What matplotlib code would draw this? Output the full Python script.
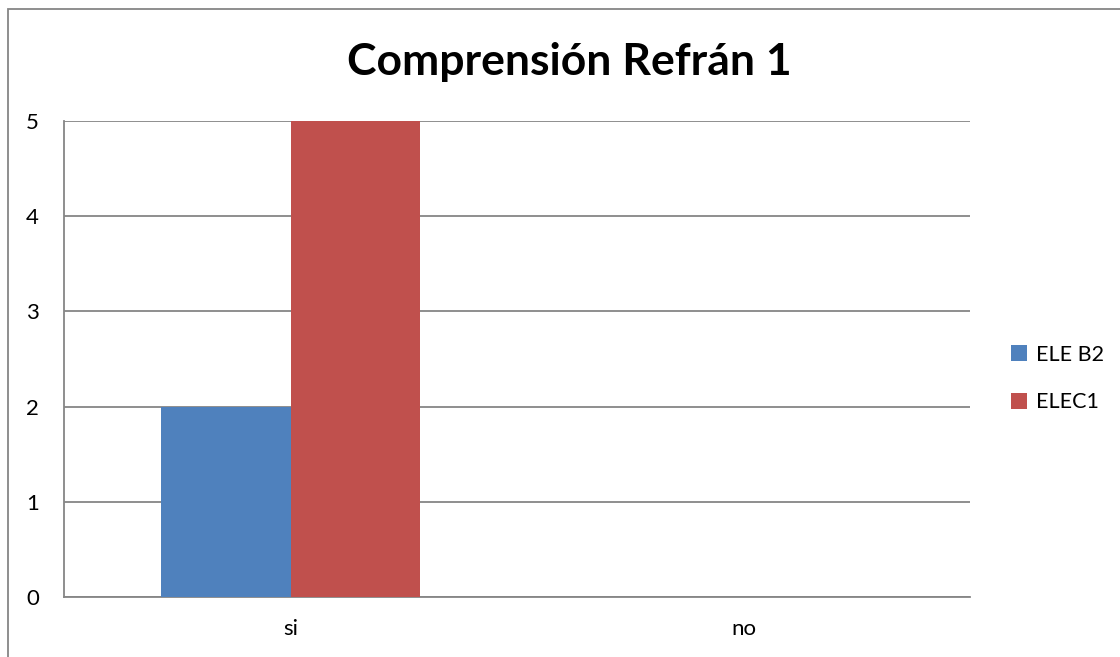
import numpy as np
import matplotlib
matplotlib.use('Agg')
import matplotlib.pyplot as plt
from matplotlib.patches import Rectangle

categories = ['si', 'no']
series_names = ['ELE B2', 'ELEC1']
ele_b2 = [2, 0]
elec1 = [5, 0]
colors = ['#4F81BD', '#C0504D']
yticks = [0, 1, 2, 3, 4, 5]

plt.rcParams['font.family'] = ['Lato', 'DejaVu Sans']

fig = plt.figure(figsize=(11.2, 6.57), dpi=100)
ax = fig.add_axes([64/1120, 1 - 597/657, (970 - 64)/1120, (597 - 121)/657])

x = np.arange(len(categories))
w = 0.285
ax.bar(x - w/2, ele_b2, w, color=colors[0], label=series_names[0], zorder=3)
ax.bar(x + w/2, elec1, w, color=colors[1], label=series_names[1], zorder=3)

ax.set_xlim(-0.5, 1.5)
ax.set_ylim(0, 5)
ax.set_yticks(yticks)
ax.set_xticks(x)
ax.set_xticklabels(categories)
ax.tick_params(axis='both', length=0, labelsize=16)
ax.tick_params(axis='y', pad=18)
ax.tick_params(axis='x', pad=16)
ax.yaxis.grid(True, color='#868686', linewidth=1.3, zorder=0)
ax.set_axisbelow(True)
for s in ['top', 'right']:
    ax.spines[s].set_visible(False)
for s in ['left', 'bottom']:
    ax.spines[s].set_color('#868686')
    ax.spines[s].set_linewidth(1.3)

fig.text(569/1120, 1 - 75/657, 'Comprensión Refrán 1', ha='center', va='baseline',
         fontsize=32, fontweight='bold')

fig.legend(loc='center left', bbox_to_anchor=(1011/1120, 1 - 378.5/657),
           frameon=False, fontsize=15.5, handlelength=0.75, handleheight=0.75,
           handletextpad=0.4, labelspacing=1.3, borderpad=0, borderaxespad=0)

# chart border (only left and top edges visible in the crop)
fig.patches.append(Rectangle((8/1120, -0.1), 1.2, 1 - 9/657 + 0.1, transform=fig.transFigure,
                             fill=False, edgecolor='#868686', linewidth=1.3))

fig.savefig('out.png', dpi=100)
